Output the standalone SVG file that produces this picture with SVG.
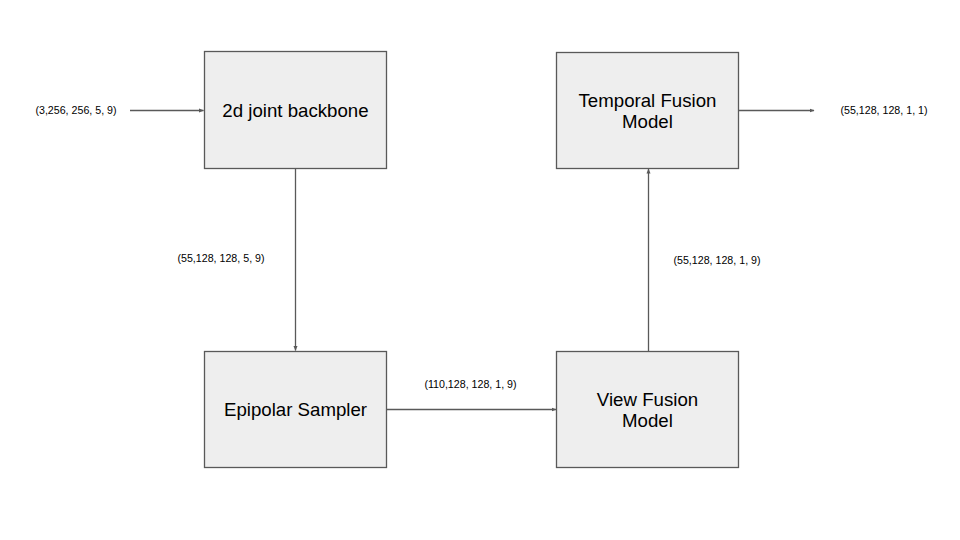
<svg xmlns="http://www.w3.org/2000/svg" width="960" height="540" viewBox="0 0 960 540">
<style>
.box{fill:#eeeeee;stroke:#595959;stroke-width:1.3}
.t{font-family:"Liberation Sans",Arial,sans-serif;font-size:18.67px;fill:#000;text-anchor:middle}
.s{font-family:"Liberation Sans",Arial,sans-serif;font-size:10.67px;fill:#000;text-anchor:middle}
.c{stroke:#595959;stroke-width:1.3;fill:none;marker-end:url(#ah)}
</style>
<defs>
<marker id="ah" viewBox="0 0 10 10" refX="9" refY="5" markerWidth="5" markerHeight="5" orient="auto" markerUnits="userSpaceOnUse">
<path d="M0,1 L10,5 L0,9 z" fill="#595959"/>
</marker>
</defs>
<rect width="960" height="540" fill="#ffffff"/>
<g id="connectors">
<line class="c" x1="130" y1="110.5" x2="203.5" y2="110.5"/>
<line class="c" x1="295.5" y1="168.5" x2="295.5" y2="350.5"/>
<line class="c" x1="386.5" y1="409.5" x2="556" y2="409.5"/>
<line class="c" x1="648.5" y1="351" x2="648.5" y2="169"/>
<line class="c" x1="739" y1="110.5" x2="814" y2="110.5"/>
</g>
<g id="labels">
<text class="s" x="76" y="114">(3,256, 256, 5, 9)</text>
<text class="s" x="221" y="262">(55,128, 128, 5, 9)</text>
<text class="s" x="470.5" y="388">(110,128, 128, 1, 9)</text>
<text class="s" x="717" y="264">(55,128, 128, 1, 9)</text>
<text class="s" x="884" y="114">(55,128, 128, 1, 1)</text>
</g>
<g id="backbone">
<rect class="box" x="204.5" y="51.5" width="182" height="117"/>
<text class="t" x="295.5" y="117">2d joint backbone</text>
</g>
<g id="temporal">
<rect class="box" x="556.5" y="52.5" width="182" height="116"/>
<text class="t" x="647.5" y="107">Temporal Fusion</text>
<text class="t" x="647.5" y="128">Model</text>
</g>
<g id="epipolar">
<rect class="box" x="204.5" y="351.5" width="182" height="116"/>
<text class="t" x="295.5" y="416">Epipolar Sampler</text>
</g>
<g id="viewfusion">
<rect class="box" x="556.5" y="351.5" width="182" height="116"/>
<text class="t" x="647.5" y="406">View Fusion</text>
<text class="t" x="647.5" y="427">Model</text>
</g>
</svg>
